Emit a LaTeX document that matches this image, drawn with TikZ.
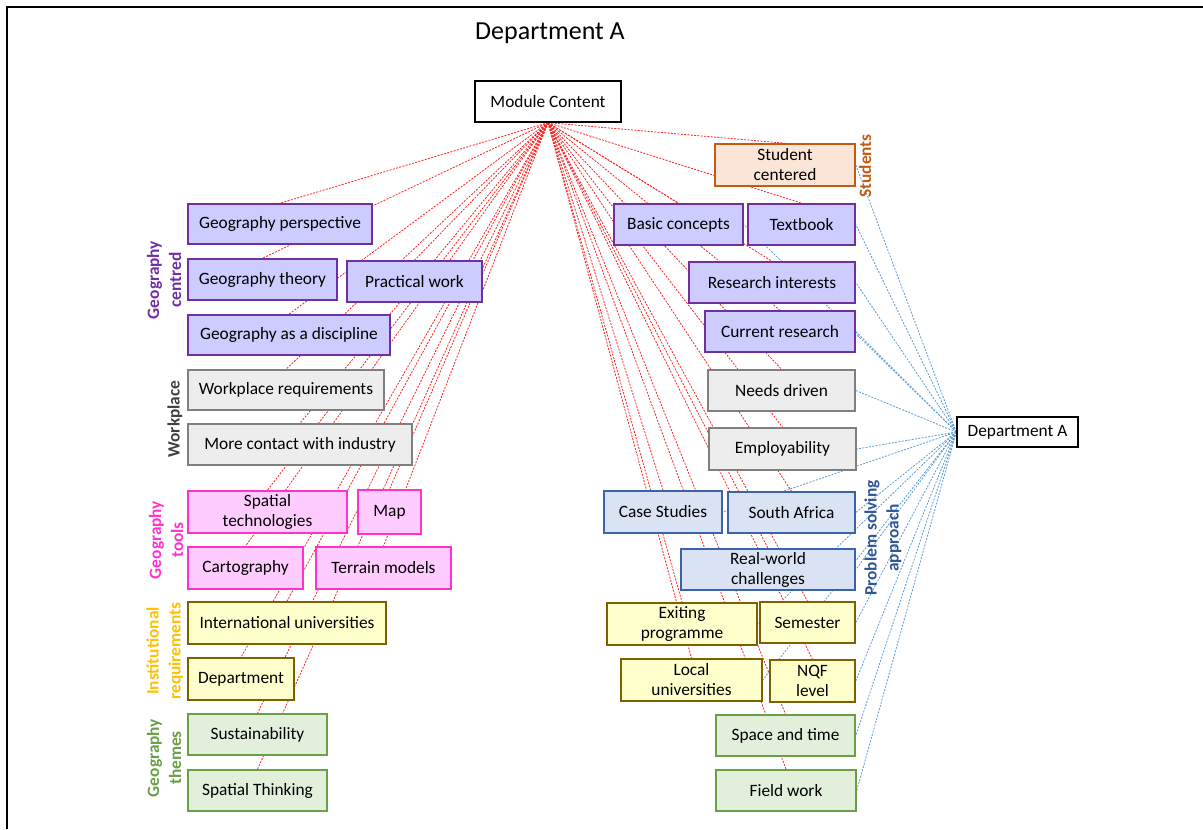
\documentclass[tikz,border=0pt]{standalone}
\usepackage{fontspec}
\setmainfont{Carlito}
\pgfdeclarelayer{bg}
\pgfsetlayers{bg,main}
\definecolor{purB}{HTML}{7030A0}
\definecolor{purF}{HTML}{CCCCFF}
\definecolor{grayB}{HTML}{7F7F7F}
\definecolor{grayF}{HTML}{EDEDED}
\definecolor{pinkB}{HTML}{FF33CC}
\definecolor{pinkF}{HTML}{FFCCFF}
\definecolor{yelB}{HTML}{7F6000}
\definecolor{yelF}{HTML}{FFFFCC}
\definecolor{grnB}{HTML}{6A9E47}
\definecolor{grnF}{HTML}{E2EFDA}
\definecolor{bluB}{HTML}{3B64A8}
\definecolor{bluF}{HTML}{DAE3F3}
\definecolor{oraB}{HTML}{C55A11}
\definecolor{oraF}{HTML}{FBE5D6}
\definecolor{goldL}{HTML}{FFC000}
\definecolor{darkL}{HTML}{404040}
\definecolor{probL}{HTML}{2F5597}
\definecolor{linkB}{HTML}{5B9BD5}
\definecolor{linkR}{HTML}{FF2020}
% box from its left, top, right and bottom edges
\newcommand\bxn[7]{\node[#2, minimum width={(#5-#3)*0.75pt}, minimum height={(#6-#4)*0.75pt}] (#1) at ({(#3+#5)/2},{(#4+#6)/2}) {#7};}
\begin{document}
\begin{tikzpicture}[x=0.75pt,y=-0.75pt,
  box/.style={draw, line width=1.2pt, inner sep=1pt, align=center, text=black,
    font=\fontsize{13}{15}\selectfont},
  plainbox/.style={box, draw=black, line width=1pt, fill=white},
  purbox/.style={box, draw=purB, fill=purF},
  graybox/.style={box, draw=grayB, fill=grayF},
  pinkbox/.style={box, draw=pinkB, fill=pinkF},
  yelbox/.style={box, draw=yelB, fill=yelF},
  grnbox/.style={box, draw=grnB, fill=grnF},
  blubox/.style={box, draw=bluB, fill=bluF},
  orabox/.style={box, draw=oraB, fill=oraF},
  cat/.style={rotate=90, align=center, font=\bfseries\fontsize{13}{16.5}\selectfont},
  redlink/.style={draw=linkR, line width=0.6pt, dash pattern=on 1.5pt off 1pt},
  bluelink/.style={draw=linkB, line width=0.6pt, dash pattern=on 1.5pt off 1pt}]
\useasboundingbox (0,0) rectangle (1203,829);
% frame
\draw[line width=1.8pt] (7,829) -- (7,7) -- (1203,7);
% title
\node[font=\fontsize{19.5}{22}\selectfont] (title) at (550,33) {Department A};
% hubs
\bxn{mc}{plainbox}{475}{81}{621}{122}{Module Content}
\bxn{depa}{plainbox}{957}{417}{1078}{447}{Department A}
% left column
\bxn{gp}{purbox}{188}{204}{372}{244}{Geography perspective}
\bxn{gt}{purbox}{188}{259}{337}{300}{Geography theory}
\bxn{pw}{purbox}{347}{261}{482}{302}{Practical work}
\bxn{gd}{purbox}{188}{315}{390}{355}{Geography as a discipline}
\bxn{wr}{graybox}{188}{370}{384}{410}{Workplace requirements}
\bxn{ci}{graybox}{188}{424}{412}{465}{More contact with industry}
\bxn{stech}{pinkbox}{188}{491}{347}{533}{Spatial\\technologies}
\bxn{map}{pinkbox}{358}{490}{421}{534}{Map}
\bxn{carto}{pinkbox}{188}{547}{303}{589}{Cartography}
\bxn{terr}{pinkbox}{316}{547}{451}{589}{Terrain models}
\bxn{iu}{yelbox}{188}{602}{386}{644}{International universities}
\bxn{dep}{yelbox}{188}{658}{294}{700}{Department}
\bxn{sus}{grnbox}{188}{714}{327}{755}{Sustainability}
\bxn{spt}{grnbox}{188}{770}{327}{811}{Spatial Thinking}
% right column
\bxn{sc}{orabox}{715}{144}{855}{186}{Student\\centered}
\bxn{bc}{purbox}{614}{204}{743}{245}{Basic concepts}
\bxn{tb}{purbox}{748}{204}{855}{245}{Textbook}
\bxn{ri}{purbox}{689}{262}{855}{303}{Research interests}
\bxn{cr}{purbox}{705}{311}{855}{352}{Current research}
\bxn{nd}{graybox}{708}{370}{855}{411}{Needs driven}
\bxn{emp}{graybox}{709}{428}{856}{470}{Employability}
\bxn{cs}{blubox}{604}{491}{722}{533}{Case Studies}
\bxn{sa}{blubox}{728}{492}{855}{533}{South Africa}
\bxn{rw}{blubox}{681}{549}{855}{590}{Real-world\\challenges}
\bxn{ep}{yelbox}{607}{603}{757}{645}{Exiting\\programme}
\bxn{sem}{yelbox}{760}{602}{855}{643}{Semester}
\bxn{lu}{yelbox}{621}{659}{762}{701}{Local\\universities}
\bxn{nqf}{yelbox}{770}{660}{855}{702}{NQF\\level}
\bxn{sat}{grnbox}{716}{715}{855}{756}{Space and time}
\bxn{fw}{grnbox}{716}{770}{856}{811}{Field work}
% category labels
\node[cat, text=purB] (lgc) at (164,280) {Geography\\centred};
\node[cat, text=darkL] (lwp) at (175,419) {Workplace};
\node[cat, text=pinkB] (lgt) at (166,540) {Geography\\tools};
\node[cat, text=goldL] (lir) at (165,651) {Institutional\\requirements};
\node[cat, text=grnB] (lgth) at (164,758) {Geography\\themes};
\node[cat, text=oraB] (lst) at (865,166) {Students};
\node[cat, text=probL] (lps) at (883,538) {Problem solving\\approach};
% connectors behind the boxes
\begin{pgfonlayer}{bg}
\foreach \t in {gp,gt,pw,gd,wr,ci,stech,map,carto,terr,iu,dep,sus,spt,
                sc,bc,tb,ri,cr,nd,emp,cs,sa,rw,ep,sem,lu,nqf,sat,fw}
  \draw[redlink] (mc.south) -- (\t.north);
\foreach \t in {sc,bc,tb,ri,cr,nd,emp,cs,sa,rw,ep,sem,lu,nqf,sat,fw}
  \draw[bluelink] (depa.west) -- (\t.east);
\end{pgfonlayer}
\end{tikzpicture}
\end{document}
